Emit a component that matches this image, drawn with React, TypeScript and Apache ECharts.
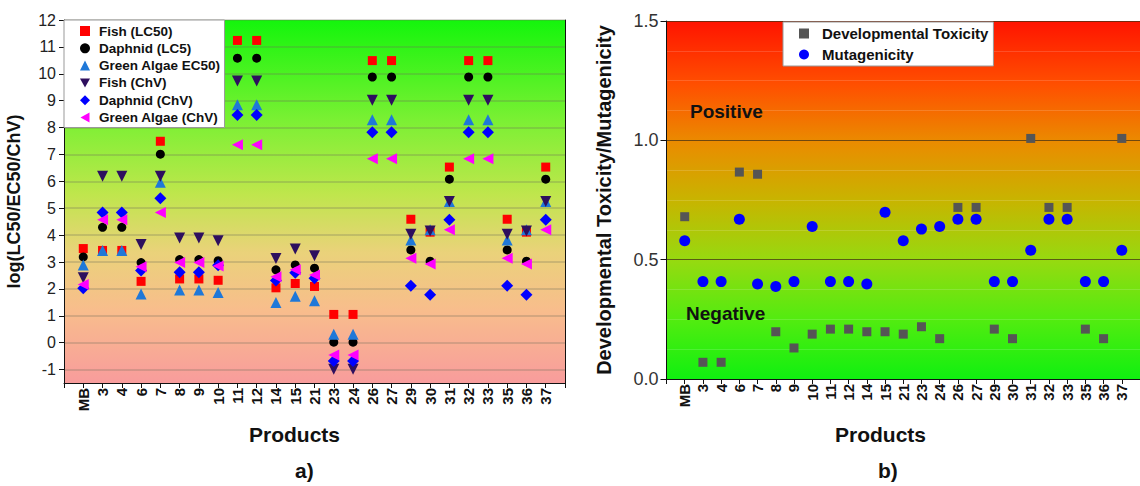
import React, { useEffect, useRef } from "react";
import * as echarts from "echarts";

const categories = ["MB", "3", "4", "6", "7", "8", "9", "10", "11", "12", "14", "15", "21", "23", "24", "26", "27", "29", "30", "31", "32", "33", "35", "36", "37"];

const fishLC50 = [3.5, 3.43, 3.43, 2.28, 7.49, 2.37, 2.37, 2.32, 11.24, 11.24, 2.04, 2.2, 2.09, 1.05, 1.05, 10.49, 10.49, 4.59, 4.11, 6.53, 10.49, 10.49, 4.59, 4.11, 6.53];
const daphnidLC5 = [3.19, 4.29, 4.29, 2.98, 7.01, 3.09, 3.09, 3.05, 10.58, 10.58, 2.71, 2.89, 2.77, 0.02, 0.02, 9.88, 9.88, 3.45, 3.03, 6.08, 9.88, 9.88, 3.45, 3.03, 6.08];
const algaeEC50 = [2.89, 3.43, 3.43, 1.81, 5.97, 1.96, 1.96, 1.87, 8.85, 8.85, 1.49, 1.73, 1.56, 0.31, 0.31, 8.29, 8.29, 3.82, 4.2, 5.25, 8.29, 8.29, 3.82, 4.2, 5.25];
const fishChV = [2.41, 6.19, 6.19, 3.65, 6.19, 3.89, 3.89, 3.79, 9.73, 9.73, 3.13, 3.48, 3.23, -0.99, -0.99, 9.02, 9.02, 4.03, 4.15, 5.25, 9.02, 9.02, 4.03, 4.15, 5.25];
const daphnidChV = [2.02, 4.84, 4.84, 2.68, 5.37, 2.62, 2.62, 2.88, 8.47, 8.47, 2.31, 2.6, 2.4, -0.68, -0.68, 7.83, 7.83, 2.12, 1.78, 4.57, 7.83, 7.83, 2.12, 1.78, 4.57];
const algaeChV = [2.16, 4.57, 4.57, 2.82, 4.84, 2.98, 2.98, 2.85, 7.36, 7.36, 2.45, 2.71, 2.52, -0.46, -0.46, 6.84, 6.84, 3.14, 2.93, 4.2, 6.84, 6.84, 3.14, 2.93, 4.2];

const devTox = [0.68, 0.07, 0.07, 0.867, 0.858, 0.198, 0.13, 0.188, 0.209, 0.209, 0.198, 0.198, 0.188, 0.219, 0.169, 0.719, 0.719, 0.209, 0.169, 1.008, 0.719, 0.719, 0.209, 0.169, 1.008];
const mutagenicity = [0.579, 0.408, 0.408, 0.669, 0.398, 0.388, 0.408, 0.639, 0.408, 0.408, 0.398, 0.699, 0.579, 0.628, 0.639, 0.669, 0.669, 0.408, 0.408, 0.539, 0.669, 0.669, 0.408, 0.408, 0.539];

const leftYTicks = [-1, 0, 1, 2, 3, 4, 5, 6, 7, 8, 9, 10, 11, 12];

const FONT = 'Arial, "Liberation Sans", sans-serif';

const DOWN_TRI = "path://M0,0L10,0L5,9Z";
const LEFT_TRI = "path://M9,0L9,10L0,5Z";

const toPairs = (vals: number[]) => vals.map((v, i) => [i, v]);

const catFormatter = (v: number) => {
  const i = Math.round(v);
  return Math.abs(v - i) < 1e-6 && i >= 0 && i < categories.length ? categories[i] : "";
};

export default function App() {
  const ref = useRef<HTMLDivElement>(null);
  useEffect(() => {
    if (!ref.current) return;
    const chart = echarts.init(ref.current, undefined, { renderer: "svg" });
    const leftBg = new echarts.graphic.LinearGradient(0, 0, 0, 1, [
      { offset: 0, color: "#14f50c" },
      { offset: 0.28, color: "#7cf034" },
      { offset: 0.48, color: "#bfe64c" },
      { offset: 0.64, color: "#ead27a" },
      { offset: 0.8, color: "#f8bd8c" },
      { offset: 1, color: "#f89c9c" },
    ]);
    const rightBg = new echarts.graphic.LinearGradient(0, 0, 0, 1, [
      { offset: 0, color: "#ff1400" },
      { offset: 0.18, color: "#ff5000" },
      { offset: 0.34, color: "#ea8c00" },
      { offset: 0.5, color: "#c8b400" },
      { offset: 0.67, color: "#96da10" },
      { offset: 0.84, color: "#50ec10" },
      { offset: 1, color: "#10f010" },
    ]);
    const leftScatter = (name: string, data: number[], symbol: string, color: string, size: number, rotate = 0) => ({
      name,
      type: "scatter",
      xAxisIndex: 0,
      yAxisIndex: 0,
      symbol,
      symbolSize: size,
      symbolRotate: rotate,
      itemStyle: { color, opacity: 1 },
      data: toPairs(data),
      z: 3,
    });
    const xAxisCommon = {
      type: "value",
      min: -1,
      max: 25,
      interval: 1,
      splitLine: { show: false },
      axisLine: { show: true, onZero: false, lineStyle: { color: "#111", width: 1 } },
      axisTick: { show: true, length: 5, lineStyle: { color: "#111" } },
      axisLabel: {
        rotate: 90,
        formatter: catFormatter,
        fontFamily: FONT,
        fontWeight: "bold",
        color: "#111",
        margin: 5,
        showMinLabel: true,
        showMaxLabel: true,
      },
    };
    const option: any = {
      animation: false,
      textStyle: { fontFamily: FONT },
      grid: [
        { left: 64, top: 20, width: 501, height: 363, show: true, backgroundColor: leftBg, borderWidth: 0 },
        { left: 666.5, top: 21, width: 480, height: 358, show: true, backgroundColor: rightBg, borderWidth: 0 },
      ],
      xAxis: [
        { ...xAxisCommon, gridIndex: 0, axisLabel: { ...xAxisCommon.axisLabel, fontSize: 15 } },
        { ...xAxisCommon, gridIndex: 1, axisLabel: { ...xAxisCommon.axisLabel, fontSize: 15 } },
      ],
      yAxis: [
        {
          type: "value",
          gridIndex: 0,
          min: -1.5,
          max: 12,
          name: "log(LC50/EC50/ChV)",
          nameLocation: "middle",
          nameGap: 41,
          nameTextStyle: { fontFamily: FONT, fontWeight: "bold", fontSize: 18, color: "#111" },
          axisLine: { show: true, onZero: false, lineStyle: { color: "#111" } },
          axisTick: { show: true, length: 5, customValues: leftYTicks, lineStyle: { color: "#111" } },
          axisLabel: { customValues: leftYTicks, fontFamily: FONT, fontSize: 16, color: "#222", margin: 8 },
          splitLine: { show: true, lineStyle: { color: "rgba(110,110,90,0.35)", width: 1.5 } },
        },
        {
          type: "value",
          gridIndex: 0,
          position: "right",
          min: -1.5,
          max: 12,
          axisLine: { show: true, onZero: false, lineStyle: { color: "#111" } },
          axisTick: { show: false },
          axisLabel: { show: false },
          splitLine: { show: false },
        },
        {
          type: "value",
          gridIndex: 1,
          min: 0,
          max: 1.5,
          interval: 0.5,
          name: "Developmental Toxicity/Mutagenicity",
          nameLocation: "middle",
          nameGap: 53,
          nameTextStyle: { fontFamily: FONT, fontWeight: "bold", fontSize: 20, color: "#111" },
          axisLine: { show: true, onZero: false, lineStyle: { color: "#111" } },
          axisTick: { show: true, length: 6, lineStyle: { color: "#111" } },
          axisLabel: { fontFamily: FONT, fontSize: 18, color: "#333", margin: 8, formatter: (v: number) => v.toFixed(1) },
          splitLine: { show: true, lineStyle: { color: "rgba(70,50,20,0.75)", width: 1 } },
          minorTick: { show: false, splitNumber: 4 },
          minorSplitLine: { show: true, lineStyle: { color: "rgba(255,255,255,0.3)", type: "dotted", width: 1 } },
        },
      ],
      legend: [
        {
          left: 64,
          top: 20,
          orient: "vertical",
          backgroundColor: "#fff",
          borderColor: "#999",
          borderWidth: 1,
          borderRadius: 0,
          padding: [4, 4, 3, 16],
          itemGap: 3.3,
          itemWidth: 10,
          itemHeight: 10,
          textStyle: { fontFamily: FONT, fontWeight: "bold", fontSize: 13.5, color: "#111", padding: [0, 0, 0, 4] },
          data: [
            { name: "Fish (LC50)" },
            { name: "Daphnid (LC5)" },
            { name: "Green Algae EC50)" },
            { name: "Fish (ChV)", icon: DOWN_TRI },
            { name: "Daphnid (ChV)" },
            { name: "Green Algae (ChV)", icon: LEFT_TRI },
          ],
        },
        {
          left: 783,
          top: 22,
          orient: "vertical",
          backgroundColor: "#fff",
          borderColor: "#999",
          borderWidth: 1,
          borderRadius: 0,
          padding: [4, 5, 4, 16],
          itemGap: 6,
          itemWidth: 10,
          itemHeight: 10,
          textStyle: { fontFamily: FONT, fontWeight: "bold", fontSize: 15, color: "#111", padding: [0, 0, 0, 8] },
          data: ["Developmental Toxicity", "Mutagenicity"],
        },
      ],
      graphic: [
        { type: "text", left: 249, top: 424, style: { text: "Products", font: `bold 21px ${FONT}`, fill: "#111" } },
        { type: "text", left: 835, top: 424, style: { text: "Products", font: `bold 21px ${FONT}`, fill: "#111" } },
        { type: "text", left: 295, top: 460, style: { text: "a)", font: `bold 21px ${FONT}`, fill: "#111" } },
        { type: "text", left: 878, top: 460, style: { text: "b)", font: `bold 21px ${FONT}`, fill: "#111" } },
        { type: "text", left: 690, top: 102, z: 10, style: { text: "Positive", font: `bold 19px ${FONT}`, fill: "#111" } },
        { type: "text", left: 686, top: 304, z: 10, style: { text: "Negative", font: `bold 19px ${FONT}`, fill: "#111" } },
      ],
      series: [
        leftScatter("Fish (LC50)", fishLC50, "rect", "#ff0000", 9),
        leftScatter("Daphnid (LC5)", daphnidLC5, "circle", "#000000", 9),
        leftScatter("Green Algae EC50)", algaeEC50, "triangle", "#1f78d8", 11),
        leftScatter("Fish (ChV)", fishChV, "triangle", "#2e0f5e", 11, 180),
        leftScatter("Daphnid (ChV)", daphnidChV, "diamond", "#0000ff", 12),
        leftScatter("Green Algae (ChV)", algaeChV, "triangle", "#ff00ff", 11, 90),
        {
          name: "Developmental Toxicity",
          type: "scatter",
          xAxisIndex: 1,
          yAxisIndex: 2,
          symbol: "rect",
          symbolSize: 9,
          itemStyle: { color: "#555555", opacity: 1 },
          data: toPairs(devTox),
          z: 3,
        },
        {
          name: "Mutagenicity",
          type: "scatter",
          xAxisIndex: 1,
          yAxisIndex: 2,
          symbol: "circle",
          symbolSize: 11,
          itemStyle: { color: "#0000ff", opacity: 1 },
          data: toPairs(mutagenicity),
          z: 3,
        },
      ],
    };
    chart.setOption(option);
    return () => chart.dispose();
  }, []);
  return (
    <div
      ref={ref}
      style={{ position: "fixed", left: 0, top: 0, width: 1140, height: 486, background: "#fff", overflow: "hidden" }}
    />
  );
}
